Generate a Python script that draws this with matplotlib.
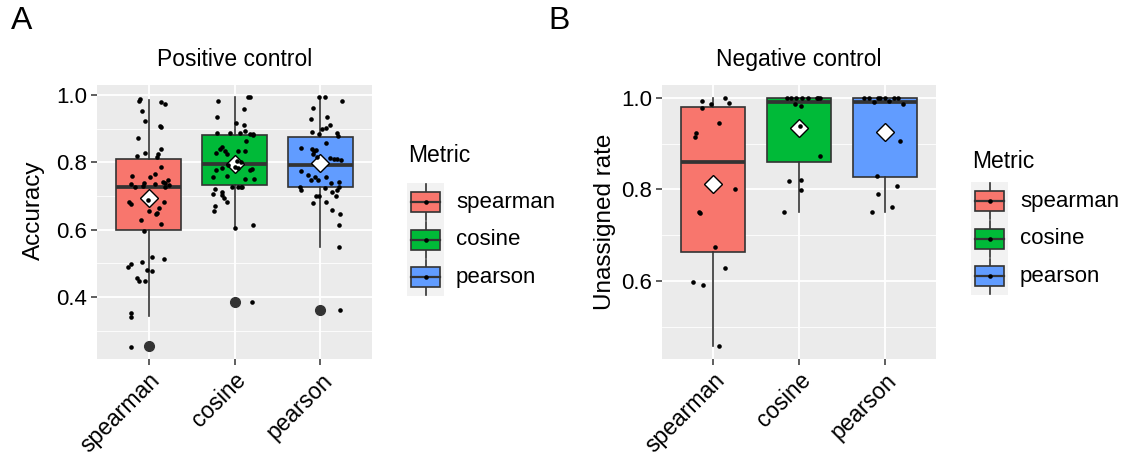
import matplotlib.pyplot as plt
from matplotlib.patches import Rectangle

plt.rcParams['font.family'] = ['Liberation Sans', 'DejaVu Sans']

metrics = ['spearman', 'cosine', 'pearson']
fills = ['#F8766D', '#00BA38', '#619CFF']

# ---- A: positive control, accuracy per sample (value, jitter)
pos_spearman = [0.983, 0.988, 0.979, 0.973, 0.953, 0.924, 0.909, 0.906, 0.873, 0.840,
                0.829, 0.819, 0.825, 0.817, 0.785, 0.760, 0.757, 0.765, 0.747, 0.742,
                0.736, 0.738, 0.728, 0.735, 0.726, 0.731, 0.740, 0.733, 0.683, 0.675,
                0.688, 0.681, 0.665, 0.656, 0.651, 0.648, 0.630, 0.618, 0.595, 0.519,
                0.514, 0.498, 0.505, 0.488, 0.481, 0.477, 0.457, 0.449, 0.449, 0.354,
                0.341, 0.252]
pos_spearman_jit = [-0.11, -0.10, 0.14, 0.19, -0.08, -0.04, 0.13, 0.15, -0.12, 0.15,
                    -0.04, -0.14, 0.11, 0.10, 0.15, -0.19, 0.02, 0.08, 0.23, 0.17,
                    0.07, -0.05, -0.16, -0.21, 0.19, -0.06, 0.19, 0.24, -0.23, -0.21,
                    -0.01, 0.18, 0.12, 0.01, 0.10, 0.09, -0.09, 0.15, -0.05, 0.04,
                    0.18, -0.20, -0.08, -0.24, -0.02, 0.04, -0.14, -0.11, -0.04, -0.21,
                    -0.20, -0.21]
pos_cosine = [0.983, 0.993, 0.994, 0.958, 0.935, 0.916, 0.911, 0.894, 0.886, 0.888,
              0.886, 0.884, 0.884, 0.881, 0.865, 0.846, 0.841, 0.833, 0.828, 0.834,
              0.825, 0.834, 0.804, 0.800, 0.792, 0.785, 0.782, 0.782, 0.777, 0.777,
              0.779, 0.759, 0.757, 0.752, 0.751, 0.728, 0.728, 0.728, 0.726, 0.720,
              0.706, 0.713, 0.703, 0.693, 0.683, 0.672, 0.657, 0.604, 0.614, 0.386]
pos_cosine_jit = [-0.19, 0.16, 0.18, 0.11, -0.20, 0.02, 0.11, 0.12, -0.20, -0.05,
                  0.06, 0.18, 0.21, 0.21, 0.13, -0.14, -0.17, -0.11, -0.22, 0.04,
                  -0.09, 0.12, 0.03, 0.08, -0.08, 0.00, -0.14, 0.04, -0.21, 0.18,
                  0.20, -0.09, -0.25, 0.23, 0.12, -0.03, 0.04, 0.07, 0.09, -0.23,
                  -0.25, -0.14, -0.15, -0.12, -0.09, -0.23, -0.24, 0.00, 0.22, 0.20]
pos_pearson = [0.993, 0.993, 0.983, 0.963, 0.930, 0.936, 0.911, 0.901, 0.899, 0.891,
               0.883, 0.886, 0.879, 0.859, 0.844, 0.839, 0.833, 0.838, 0.825, 0.817,
               0.812, 0.810, 0.807, 0.811, 0.775, 0.762, 0.747, 0.747, 0.757, 0.757,
               0.728, 0.718, 0.723, 0.740, 0.742, 0.728, 0.718, 0.700, 0.701, 0.678,
               0.683, 0.713, 0.700, 0.658, 0.646, 0.615, 0.549, 0.363]
pos_pearson_jit = [-0.02, 0.05, 0.25, -0.09, -0.11, 0.08, 0.11, 0.07, 0.02, -0.10,
                   -0.02, 0.19, 0.20, 0.06, -0.23, -0.10, -0.07, -0.05, -0.09, -0.04,
                   0.11, 0.19, 0.24, 0.16, -0.23, -0.15, -0.11, -0.03, -0.06, 0.06,
                   -0.24, -0.23, 0.05, 0.12, 0.22, 0.22, 0.19, -0.05, -0.02, -0.09,
                   0.06, 0.13, 0.18, 0.14, 0.23, 0.22, 0.22, 0.23]

pos_q1 = [0.600, 0.733, 0.727]
pos_med = [0.727, 0.795, 0.793]
pos_q3 = [0.811, 0.880, 0.876]
pos_whislo = [0.344, 0.603, 0.550]
pos_whishi = [0.985, 0.993, 0.993]
pos_fliers = [[0.254], [0.386], [0.362]]
pos_mean = [0.693, 0.796, 0.797]

# ---- B: negative control, unassigned rate per sample
neg_spearman = [0.993, 1.000, 0.989, 0.986, 0.978, 0.944, 0.924, 0.914, 0.801, 0.750,
                0.748, 0.674, 0.627, 0.597, 0.591, 0.457]
neg_spearman_jit = [-0.13, 0.14, 0.18, -0.03, -0.13, 0.06, -0.20, -0.21, 0.25, -0.17,
                    -0.16, 0.02, 0.14, -0.24, -0.12, 0.07]
neg_cosine = [1.000, 1.000, 0.999, 1.000, 1.000, 1.000, 0.999, 1.000, 0.986, 0.983,
              0.939, 0.873, 0.818, 0.820, 0.798, 0.750]
neg_cosine_jit = [-0.14, -0.09, -0.03, 0.04, 0.21, 0.24, 0.22, 0.10, -0.05, 0.02,
                  0.01, 0.24, -0.12, 0.02, 0.02, -0.18]
neg_pearson = [1.000, 0.999, 0.991, 1.000, 1.000, 0.993, 1.000, 1.000, 0.986, 1.000,
               0.905, 0.830, 0.808, 0.789, 0.761, 0.750]
neg_pearson_jit = [-0.24, -0.18, -0.12, -0.05, 0.00, 0.05, 0.11, 0.16, 0.21, -0.08,
                   0.18, -0.09, 0.15, -0.08, 0.09, -0.15]

neg_q1 = [0.663, 0.859, 0.826]
neg_med = [0.859, 0.991, 0.990]
neg_q3 = [0.980, 1.000, 1.000]
neg_whislo = [0.457, 0.751, 0.750]
neg_whishi = [1.000, 1.000, 1.000]
neg_fliers = [[], [], []]
neg_mean = [0.811, 0.935, 0.926]

EDGE = '#333333'
BG = '#EBEBEB'


def draw_panel(ax, q1, med, q3, wlo, whi, fl, mean, pts, jits, ylim, major, minor,
               title, ylabel, label_xy):
    ax.set_facecolor(BG)
    stats = []
    for i in range(3):
        stats.append(dict(q1=q1[i], med=med[i], q3=q3[i], whislo=wlo[i], whishi=whi[i],
                          fliers=fl[i], mean=mean[i]))
    pos = [1, 2, 3]
    bp = ax.bxp(stats, positions=pos, widths=0.75, patch_artist=True, showcaps=False,
                showmeans=True, manage_ticks=False,
                boxprops=dict(edgecolor=EDGE, linewidth=1.2),
                medianprops=dict(color=EDGE, linewidth=2.7, solid_capstyle='butt'),
                whiskerprops=dict(color=EDGE, linewidth=1.2),
                flierprops=dict(marker='o', markerfacecolor=EDGE, markeredgecolor=EDGE,
                                markersize=7),
                meanprops=dict(marker='D', markerfacecolor='white', markeredgecolor='black',
                               markersize=9.5, markeredgewidth=1.0))
    for patch, c in zip(bp['boxes'], fills):
        patch.set_facecolor(c)
    for art in bp['boxes'] + bp['whiskers'] + bp['medians'] + bp['fliers']:
        art.set_zorder(2)
    for art in bp['means']:
        art.set_zorder(3)
    for i in range(3):
        xs = [pos[i] + j for j in jits[i]]
        ax.plot(xs, pts[i], 'o', color='black', markersize=3.3, markeredgewidth=0, zorder=4)

    ax.set_xlim(0.4, 3.6)
    ax.set_ylim(*ylim)
    ax.set_xticks(pos)
    ax.set_xticklabels(metrics, rotation=45, ha='right', va='top', rotation_mode='anchor',
                       fontsize=16.5)
    ax.set_yticks(major)
    ax.set_yticklabels(['%.1f' % v for v in major], fontsize=16)
    ax.set_yticks(minor, minor=True)
    ax.grid(True, which='major', color='white', linewidth=1.3, zorder=0)
    ax.grid(True, which='minor', axis='y', color='white', linewidth=0.6, zorder=0)
    ax.set_axisbelow(True)
    ax.tick_params(axis='both', which='major', length=4, width=1.1, color=EDGE,
                   labelcolor='black', pad=3)
    ax.tick_params(axis='y', which='minor', length=0)
    for s in ax.spines.values():
        s.set_visible(False)
    ax.set_title(title, fontsize=16.5, pad=14)
    ax.set_ylabel(ylabel, fontsize=17.5, va='center')
    ax.yaxis.set_label_coords(*label_xy)


fig = plt.figure(figsize=(11.26, 4.61), dpi=100)
axA = fig.add_axes([97 / 1126, 1 - 359 / 461, 275 / 1126, 274 / 461])
axB = fig.add_axes([662 / 1126, 1 - 359 / 461, 274 / 1126, 274 / 461])

draw_panel(axA, pos_q1, pos_med, pos_q3, pos_whislo, pos_whishi, pos_fliers, pos_mean,
           [pos_spearman, pos_cosine, pos_pearson],
           [pos_spearman_jit, pos_cosine_jit, pos_pearson_jit],
           (0.216, 1.03), [0.4, 0.6, 0.8, 1.0], [0.3, 0.5, 0.7, 0.9],
           'Positive control', 'Accuracy', (-0.229, 0.544))
draw_panel(axB, neg_q1, neg_med, neg_q3, neg_whislo, neg_whishi, neg_fliers, neg_mean,
           [neg_spearman, neg_cosine, neg_pearson],
           [neg_spearman_jit, neg_cosine_jit, neg_pearson_jit],
           (0.429, 1.028), [0.6, 0.8, 1.0], [0.5, 0.7, 0.9],
           'Negative control', 'Unassigned rate', (-0.208, 0.502))

# overlay in pixel units for panel letters and legends
ov = fig.add_axes([0, 0, 1, 1])
ov.set_xlim(0, 1126)
ov.set_ylim(461, 0)
ov.axis('off')
ov.text(11, 21, 'A', fontsize=23, va='center', ha='left')
ov.text(548, 21, 'B', fontsize=23, va='center', ha='left')


def draw_legend(x0, y_title, y_first):
    ov.text(x0 + 1, y_title, 'Metric', fontsize=16.5, va='center', ha='left')
    kw, kh = 37, 37.7
    for i, (m, c) in enumerate(zip(metrics, fills)):
        yc = y_first + i * kh
        ov.add_patch(Rectangle((x0, yc - kh / 2), kw, kh, facecolor='#F2F2F2',
                               edgecolor='none'))
        cx = x0 + kw / 2
        ov.plot([cx, cx], [yc - kh / 2 + 1, yc + kh / 2 - 1], color=EDGE, lw=1.2)
        ov.add_patch(Rectangle((x0 + 4, yc - 10), kw - 8, 20, facecolor=c,
                               edgecolor=EDGE, lw=1.2, zorder=3))
        ov.plot([x0 + 4, x0 + kw - 4], [yc, yc], color=EDGE, lw=1.6, zorder=4)
        ov.plot([cx], [yc], 'o', color='black', markersize=3.3, markeredgewidth=0, zorder=5)
        ov.text(x0 + kw + 12, yc, m, fontsize=16, va='center', ha='left')


draw_legend(407, 155, 202)
draw_legend(971, 161, 201)

fig.savefig('out.png', dpi=100)
